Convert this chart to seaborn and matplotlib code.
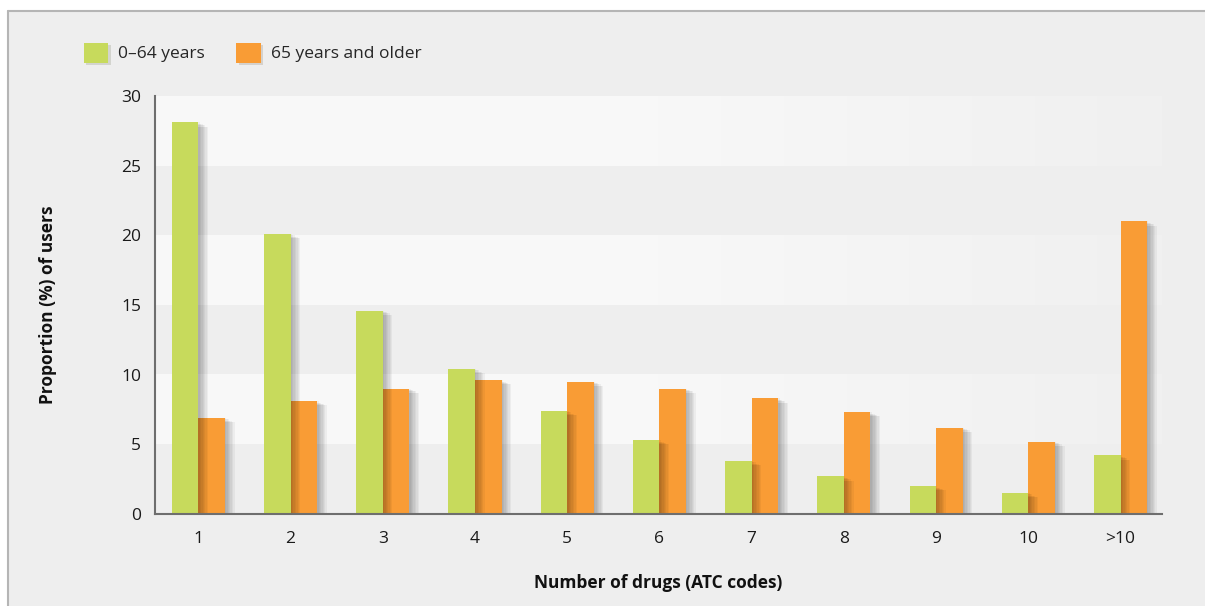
import matplotlib
matplotlib.use("Agg")
import matplotlib.pyplot as plt
import matplotlib.patheffects as pe
from matplotlib.patches import Patch
from matplotlib.lines import Line2D
from matplotlib.colors import LinearSegmentedColormap
import numpy as np
import seaborn as sns
import pandas as pd

# Data
categories = ["1", "2", "3", "4", "5", "6", "7", "8", "9", "10", ">10"]
age_0_64 = [28.1, 20.1, 14.6, 10.4, 7.4, 5.3, 3.8, 2.7, 2.0, 1.5, 4.2]
age_65_plus = [6.9, 8.1, 9.0, 9.6, 9.5, 9.0, 8.3, 7.3, 6.2, 5.2, 21.0]
series_names = ["0–64 years", "65 years and older"]
y_ticks = [0, 5, 10, 15, 20, 25, 30]

green = "#c7da5c"
orange = "#f99c35"
bg = "#eeeeee"
band_light = "#f8f8f8"

df = pd.DataFrame({
    "drugs": categories * 2,
    "share": age_0_64 + age_65_plus,
    "group": [series_names[0]] * len(categories) + [series_names[1]] * len(categories),
})

sns.set_theme(style="white")
plt.rcParams["font.family"] = ["Open Sans", "DejaVu Sans"]

W, H = 1205, 606
fig = plt.figure(figsize=(W / 100, H / 100), dpi=100)
fig.patch.set_facecolor("white")

# Grey panel with a top and left rule
fig.patches.append(plt.Rectangle((8 / W, 0), 1, 1 - 11 / H, transform=fig.transFigure,
                                 facecolor=bg, edgecolor="none", zorder=-10))
fig.add_artist(Line2D([8 / W, 1], [1 - 11 / H, 1 - 11 / H], transform=fig.transFigure,
                      color="#b5b5b5", lw=1.5))
fig.add_artist(Line2D([8 / W, 8 / W], [0, 1 - 11 / H], transform=fig.transFigure,
                      color="#b5b5b5", lw=1.5))

ax = fig.add_axes([155 / W, (H - 514) / H, (1162 - 155) / W, (514 - 96) / H])
ax.set_facecolor(bg)

xlim = (-0.47, 10.45)
# Alternating horizontal bands; the light ones fade towards the right
fade = LinearSegmentedColormap.from_list("fade", [band_light, band_light, "#f0f0f0"])
grad = np.linspace(0, 1, 256).reshape(1, -1)
for lo in range(5, 30, 10):
    ax.imshow(grad, cmap=fade, aspect="auto", extent=(xlim[0], xlim[1], lo, lo + 5),
              zorder=0, interpolation="bilinear")

sns.barplot(data=df, x="drugs", y="share", hue="group", order=categories,
            hue_order=series_names, palette=[green, orange], width=0.576,
            saturation=1, ax=ax, legend=False, zorder=2)

# Soft drop shadow built from several faint offset copies
shadow_steps = [(1, 0), (2, -1), (3, -1), (4, -2), (5, -2), (6, -3), (7, -3)]
shadow = [pe.SimplePatchShadow(offset=(dx, dy), shadow_rgbFace="black", alpha=0.045)
          for dx, dy in shadow_steps]
shadow.append(pe.Normal())
for i, container in enumerate(ax.containers):
    for bar in container:
        bar.set_path_effects(shadow)
        bar.set_zorder(4 if i == 0 else 3)
        bar.set_linewidth(0)

ax.set_xlim(*xlim)
ax.set_ylim(0, 30)
ax.set_yticks(y_ticks)
ax.tick_params(axis="both", length=0, labelsize=12.5, colors="#1a1a1a", pad=10)
ax.tick_params(axis="x", pad=12)

for side in ["top", "right"]:
    ax.spines[side].set_visible(False)
for side in ["left", "bottom"]:
    ax.spines[side].set_color("#6e6e6e")
    ax.spines[side].set_linewidth(1.5)
    ax.spines[side].set_zorder(6)

ax.set_xlabel("Number of drugs (ATC codes)", fontsize=12.5, fontweight="bold",
              color="#111111", labelpad=20)
ax.set_ylabel("Proportion (%) of users", fontsize=12.5, fontweight="bold",
              color="#111111", labelpad=46)

handles = [Patch(facecolor=green, edgecolor="none", label=series_names[0]),
           Patch(facecolor=orange, edgecolor="none", label=series_names[1])]
leg = fig.legend(handles=handles, loc="upper left", bbox_to_anchor=(68 / W, 1 - 27 / H),
                 ncol=2, frameon=False, fontsize=12.5, handlelength=1.4,
                 handleheight=1.4, handletextpad=0.6, columnspacing=1.8)
for h in leg.legend_handles:
    h.set_path_effects([pe.SimplePatchShadow(offset=(2, -2), alpha=0.15), pe.Normal()])

fig.savefig("out.png", dpi=100, facecolor=fig.get_facecolor())
